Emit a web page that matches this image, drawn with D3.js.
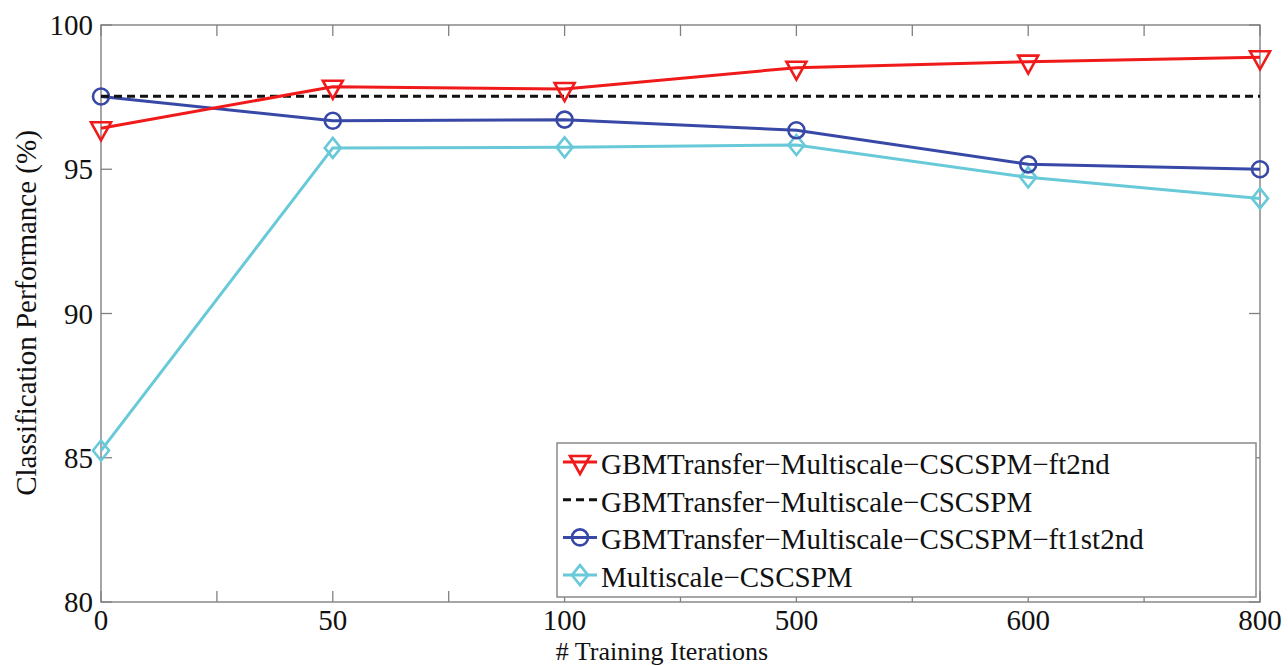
<!DOCTYPE html>
<html>
<head>
<meta charset="utf-8">
<script src="https://cdn.jsdelivr.net/npm/d3@7"></script>
</head>
<body style="margin:0">
<script>
// ---------------- dados ----------------
var categorias = ["0", "50", "100", "500", "600", "800"];
var ft2nd      = [96.42, 97.86, 97.78, 98.52, 98.73, 98.88];
var baseline   = [97.53, 97.53, 97.53, 97.53, 97.53, 97.53];
var ft1st2nd   = [97.52, 96.68, 96.72, 96.35, 95.17, 95.00];
var multiscale = [85.25, 95.74, 95.76, 95.84, 94.72, 93.99];
var yTicks     = [80, 85, 90, 95, 100];
var nomesSeries = [
  "GBMTransfer\u2212Multiscale\u2212CSCSPM\u2212ft2nd",
  "GBMTransfer\u2212Multiscale\u2212CSCSPM",
  "GBMTransfer\u2212Multiscale\u2212CSCSPM\u2212ft1st2nd",
  "Multiscale\u2212CSCSPM"
];

var series = [
  { nome: nomesSeries[0], valores: ft2nd,      cor: "#f01a1a", marca: "tri",  dash: null },
  { nome: nomesSeries[1], valores: baseline,   cor: "#111111", marca: null,   dash: "8,5" },
  { nome: nomesSeries[2], valores: ft1st2nd,   cor: "#3848a6", marca: "circ", dash: null },
  { nome: nomesSeries[3], valores: multiscale, cor: "#68c9d9", marca: "diam", dash: null }
];

// ---------------- layout ----------------
var esq = 101, dir = 1260, topo = 25, base = 602;
var svg = d3.select("body").append("svg")
  .attr("width", 1288).attr("height", 666);

var xScale = d3.scaleLinear().domain([0, categorias.length - 1]).range([esq, dir]);
var yScale = d3.scaleLinear().domain([80, 100]).range([base, topo]);

var corEixo = "#808080";
var tamTick = 11;

// ticks x: a cada meio intervalo, rotulo so nos inteiros
var xTickPos = d3.range(0, categorias.length - 0.99, 0.5);

// texto com a fonte serifada
function texto(g, x, y, s, anchor, tam) {
  return g.append("text")
    .attr("x", x).attr("y", y)
    .attr("text-anchor", anchor || "start")
    .attr("fill", "#111")
    .attr("font-family", "Liberation Serif")
    .attr("font-size", tam || 29)
    .style("font-family", "'Liberation Serif'", "important")
    .text(s);
}

function desenhaEixos() {
  var g = svg.append("g");

  // ticks internos embaixo e em cima
  g.selectAll(".xt-b").data(xTickPos).enter().append("line")
    .attr("x1", function(d) { return xScale(d); })
    .attr("x2", function(d) { return xScale(d); })
    .attr("y1", base).attr("y2", base - tamTick)
    .attr("stroke", corEixo).attr("stroke-width", 1.3);
  g.selectAll(".xt-t").data(xTickPos).enter().append("line")
    .attr("x1", function(d) { return xScale(d); })
    .attr("x2", function(d) { return xScale(d); })
    .attr("y1", topo).attr("y2", topo + tamTick)
    .attr("stroke", corEixo).attr("stroke-width", 1.3);

  // ticks y esquerda e direita
  g.selectAll(".yt-l").data(yTicks).enter().append("line")
    .attr("x1", esq).attr("x2", esq + tamTick)
    .attr("y1", function(d) { return yScale(d); })
    .attr("y2", function(d) { return yScale(d); })
    .attr("stroke", corEixo).attr("stroke-width", 1.3);
  g.selectAll(".yt-r").data(yTicks).enter().append("line")
    .attr("x1", dir).attr("x2", dir - tamTick)
    .attr("y1", function(d) { return yScale(d); })
    .attr("y2", function(d) { return yScale(d); })
    .attr("stroke", corEixo).attr("stroke-width", 1.3);

  // caixa
  g.append("rect")
    .attr("x", esq).attr("y", topo)
    .attr("width", dir - esq).attr("height", base - topo)
    .attr("fill", "none").attr("stroke", corEixo).attr("stroke-width", 1.4);

  // rotulos
  categorias.forEach(function(c, i) {
    texto(g, xScale(i), 630, c, "middle");
  });
  yTicks.forEach(function(v) {
    texto(g, 93, yScale(v) + 10, v, "end");
  });

  // titulos dos eixos
  texto(g, 662, 660, "# Training Iterations", "middle", 26);
  texto(g, 0, 0, "Classification Performance (%)", "middle")
    .attr("transform", "translate(36,313) rotate(-90)");
}

// desenha marcador em (x,y)
function desenhaMarca(g, tipo, x, y, cor) {
  if (tipo === "tri") {
    g.append("path")
      .attr("d", "M" + (x - 10) + "," + (y - 6) + "L" + (x + 10) + "," + (y - 6) + "L" + x + "," + (y + 12) + "Z")
      .attr("fill", "none").attr("stroke", cor).attr("stroke-width", 2.6);
  } else if (tipo === "circ") {
    g.append("circle")
      .attr("cx", x).attr("cy", y).attr("r", 8)
      .attr("fill", "none").attr("stroke", cor).attr("stroke-width", 2.6);
  } else if (tipo === "diam") {
    g.append("path")
      .attr("d", "M" + x + "," + (y - 10) + "L" + (x + 8) + "," + y + "L" + x + "," + (y + 10) + "L" + (x - 8) + "," + y + "Z")
      .attr("fill", "none").attr("stroke", cor).attr("stroke-width", 2.6);
  }
}

function desenhaSeries() {
  var linha = d3.line()
    .x(function(d, i) { return xScale(i); })
    .y(function(d) { return yScale(d); });

  // ordem de desenho: ciano, azul, tracejado, vermelho
  [3, 2, 1, 0].forEach(function(k) {
    var s = series[k];
    var g = svg.append("g");
    g.append("path")
      .attr("d", linha(s.valores))
      .attr("fill", "none")
      .attr("stroke", s.cor)
      .attr("stroke-width", 3)
      .attr("stroke-dasharray", s.dash);
    if (s.marca) {
      s.valores.forEach(function(v, i) {
        desenhaMarca(g, s.marca, xScale(i), yScale(v), s.cor);
      });
    }
  });
}

function desenhaLegenda() {
  var g = svg.append("g");
  var lx = 557, ly = 443, lw = 699, lh = 154;
  g.append("rect")
    .attr("x", lx).attr("y", ly).attr("width", lw).attr("height", lh)
    .attr("fill", "#fff").attr("stroke", "#8a8a8a").attr("stroke-width", 1.5);

  series.forEach(function(s, i) {
    var yy = 462 + i * 37.7;
    g.append("line")
      .attr("x1", 563).attr("x2", 597)
      .attr("y1", yy).attr("y2", yy)
      .attr("stroke", s.cor).attr("stroke-width", 3)
      .attr("stroke-dasharray", s.dash);
    if (s.marca) desenhaMarca(g, s.marca, 580, yy, s.cor);
    texto(g, 601, yy + 12, s.nome);
  });
}

desenhaEixos();
desenhaSeries();
desenhaLegenda();
</script>
</body>
</html>
